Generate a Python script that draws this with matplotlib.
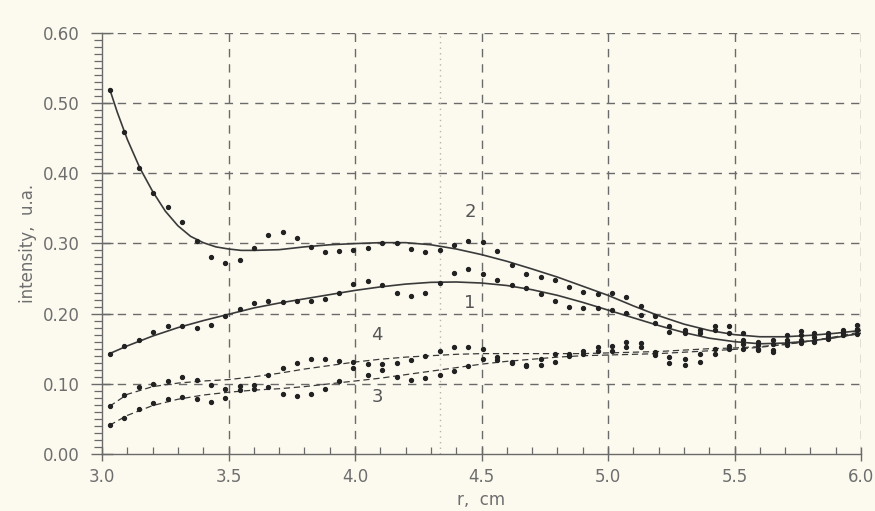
import numpy as np
import matplotlib.pyplot as plt
from matplotlib.ticker import MultipleLocator

# measured radii (cm), shared by all four profiles
r_pts = [3.032, 3.088, 3.147, 3.203, 3.261, 3.316, 3.374, 3.432, 3.487, 3.545,
         3.600, 3.657, 3.714, 3.770, 3.825, 3.881, 3.938, 3.993, 4.050, 4.108,
         4.165, 4.221, 4.278, 4.336, 4.391, 4.448, 4.505, 4.562, 4.619, 4.676,
         4.734, 4.790, 4.847, 4.902, 4.959, 5.016, 5.071, 5.129, 5.186, 5.242,
         5.304, 5.364, 5.423, 5.480, 5.535, 5.594, 5.651, 5.706, 5.761, 5.814,
         5.871, 5.927, 5.983]

pts1 = [0.143, 0.154, 0.163, 0.174, 0.182, 0.183, 0.180, 0.184, 0.196, 0.207,
        0.215, 0.218, 0.217, 0.218, 0.218, 0.221, 0.230, 0.242, 0.247, 0.240,
        0.229, 0.225, 0.230, 0.244, 0.258, 0.263, 0.257, 0.248, 0.240, 0.236,
        0.228, 0.218, 0.210, 0.208, 0.208, 0.205, 0.201, 0.198, 0.186, 0.174,
        0.172, 0.172, 0.176, 0.172, 0.163, 0.155, 0.157, 0.163, 0.169, 0.167,
        0.164, 0.174, 0.176]

pts2 = [0.519, 0.459, 0.407, 0.372, 0.352, 0.330, 0.303, 0.281, 0.272, 0.277,
        0.293, 0.312, 0.316, 0.307, 0.295, 0.288, 0.289, 0.290, 0.293, 0.300,
        0.300, 0.292, 0.287, 0.290, 0.298, 0.303, 0.302, 0.289, 0.269, 0.256,
        0.252, 0.248, 0.238, 0.231, 0.228, 0.230, 0.224, 0.211, 0.197, 0.183,
        0.176, 0.176, 0.183, 0.183, 0.172, 0.160, 0.163, 0.169, 0.175, 0.172,
        0.172, 0.177, 0.184]

pts3 = [0.041, 0.052, 0.064, 0.073, 0.079, 0.081, 0.078, 0.074, 0.080, 0.091,
        0.093, 0.095, 0.086, 0.082, 0.085, 0.092, 0.104, 0.122, 0.112, 0.120,
        0.109, 0.105, 0.108, 0.112, 0.118, 0.126, 0.135, 0.134, 0.129, 0.125,
        0.127, 0.131, 0.139, 0.143, 0.147, 0.147, 0.152, 0.152, 0.141, 0.130,
        0.127, 0.131, 0.142, 0.149, 0.150, 0.148, 0.145, 0.155, 0.158, 0.160,
        0.165, 0.170, 0.178]

pts4 = [0.069, 0.084, 0.096, 0.100, 0.104, 0.109, 0.106, 0.099, 0.092, 0.097,
        0.099, 0.112, 0.122, 0.129, 0.135, 0.135, 0.133, 0.131, 0.128, 0.128,
        0.129, 0.134, 0.140, 0.147, 0.152, 0.152, 0.149, 0.138, 0.131, 0.127,
        0.136, 0.142, 0.143, 0.147, 0.152, 0.154, 0.160, 0.158, 0.146, 0.138,
        0.135, 0.142, 0.149, 0.154, 0.157, 0.150, 0.148, 0.158, 0.162, 0.161,
        0.168, 0.172, 0.171]

# smoothed fit curves
r_fit = [3.03, 3.1, 3.2, 3.3, 3.4, 3.5, 3.6, 3.7, 3.8, 3.9, 4.0, 4.1, 4.2, 4.3,
         4.4, 4.5, 4.6, 4.7, 4.8, 4.9, 5.0, 5.1, 5.2, 5.3, 5.4, 5.5, 5.6, 5.7,
         5.8, 5.9, 6.0]
fit1 = [0.143, 0.154, 0.168, 0.180, 0.190, 0.199, 0.208, 0.215, 0.221, 0.227,
        0.233, 0.238, 0.242, 0.2445, 0.245, 0.2435, 0.240, 0.234, 0.226, 0.216,
        0.205, 0.194, 0.183, 0.173, 0.165, 0.160, 0.157, 0.158, 0.161, 0.166,
        0.172]
fit3 = [0.041, 0.055, 0.069, 0.078, 0.084, 0.088, 0.091, 0.093, 0.096, 0.100,
        0.104, 0.108, 0.113, 0.118, 0.123, 0.128, 0.132, 0.135, 0.138, 0.140,
        0.141, 0.142, 0.143, 0.145, 0.147, 0.149, 0.152, 0.156, 0.161, 0.166,
        0.172]
fit4 = [0.068, 0.085, 0.096, 0.101, 0.104, 0.106, 0.110, 0.115, 0.121, 0.126,
        0.131, 0.135, 0.138, 0.140, 0.142, 0.143, 0.143, 0.143, 0.143, 0.143,
        0.144, 0.145, 0.146, 0.148, 0.150, 0.151, 0.153, 0.156, 0.161, 0.167,
        0.174]
# curve 2 drops steeply at small r, so it is sampled more finely there
r_fit2 = [3.03, 3.06, 3.1, 3.15, 3.2, 3.25, 3.3, 3.35, 3.4, 3.45, 3.5, 3.55,
          3.6, 3.7, 3.8, 3.9, 4.0, 4.1, 4.2, 4.3, 4.4, 4.5, 4.6, 4.7, 4.8, 4.9,
          5.0, 5.1, 5.2, 5.3, 5.4, 5.5, 5.6, 5.7, 5.8, 5.9, 6.0]
fit2 = [0.520, 0.487, 0.448, 0.407, 0.374, 0.346, 0.325, 0.310, 0.301, 0.295,
        0.292, 0.290, 0.290, 0.291, 0.295, 0.298, 0.2997, 0.301, 0.301, 0.298,
        0.292, 0.284, 0.2745, 0.2635, 0.252, 0.239, 0.226, 0.211, 0.197, 0.185,
        0.176, 0.170, 0.167, 0.167, 0.169, 0.172, 0.176]

labels = ['1', '2', '3', '4']
label_pos = [(4.455, 0.215), (4.455, 0.345), (4.088, 0.0815), (4.088, 0.169)]

paper = '#fcfaef'
ink = '#3a3a3a'
grey = '#6a6a6a'
text_grey = '#6e6e6e'

fig = plt.figure(figsize=(8.75, 5.11), dpi=100, facecolor=paper)
ax = fig.add_axes([0.1166, 0.1115, 0.8674, 0.8245], facecolor=paper)

# grid first so the data sits on top
ax.set_xlim(3.0, 6.0)
ax.set_ylim(0.0, 0.60)
for xv in np.arange(3.5, 6.01, 0.5):
    ax.axvline(xv, color=grey, lw=1.0, dashes=(6, 5), zorder=1)
for yv in np.arange(0.1, 0.61, 0.1):
    ax.axhline(yv, color=grey, lw=1.0, dashes=(6, 5), zorder=1)
# faint fold in the paper
ax.axvline(4.335, color='#b5b5b0', lw=1.0, ls=(0, (1, 3)), zorder=1)

ax.plot(r_fit, fit1, color=ink, lw=1.2, zorder=3)
ax.plot(r_fit2, fit2, color=ink, lw=1.2, zorder=3)
ax.plot(r_fit, fit3, color=ink, lw=0.9, dashes=(5, 3), zorder=3)
ax.plot(r_fit, fit4, color=ink, lw=0.9, dashes=(5, 3), zorder=3)

for ys in (pts1, pts2, pts3, pts4):
    ax.plot(r_pts, ys, 'o', color='#222222', ms=2.8, zorder=4)

for lab, (xl, yl) in zip(labels, label_pos):
    ax.text(xl, yl, lab, color='#555555', fontsize=13, ha='center',
            va='center', zorder=5)

for s in ('top', 'right'):
    ax.spines[s].set_visible(False)
for s in ('left', 'bottom'):
    ax.spines[s].set_color(grey)
    ax.spines[s].set_linewidth(1.0)

ax.xaxis.set_major_locator(MultipleLocator(0.5))
ax.xaxis.set_minor_locator(MultipleLocator(0.1))
ax.yaxis.set_major_locator(MultipleLocator(0.1))
ax.yaxis.set_minor_locator(MultipleLocator(0.01))
ax.xaxis.set_major_formatter(lambda v, p: f'{v:.1f}')
ax.yaxis.set_major_formatter(lambda v, p: f'{v:.2f}')

ax.tick_params(axis='x', which='major', direction='inout', length=10,
               width=1.0, color=grey, labelcolor=text_grey, labelsize=12, pad=5)
ax.tick_params(axis='x', which='minor', direction='in', length=5,
               width=0.9, color=grey)
ax.tick_params(axis='y', which='major', direction='inout', length=16,
               width=1.0, color=grey, labelcolor=text_grey, labelsize=12, pad=8)
ax.tick_params(axis='y', which='minor', direction='out', length=6,
               width=0.9, color=grey)

ax.set_xlabel('r,  cm', color=text_grey, fontsize=12, labelpad=4)
ax.set_ylabel('intensity,  u.a.', color=text_grey, fontsize=12, labelpad=4)

fig.savefig('out.png', dpi=100, facecolor=paper)
